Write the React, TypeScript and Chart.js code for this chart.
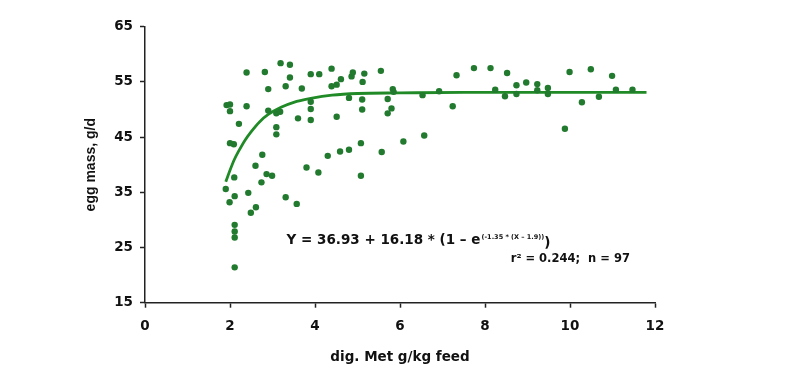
import React, { useEffect, useRef } from "react";
import { Chart, registerables } from "chart.js";

Chart.register(...registerables);

const FONT = '"DejaVu Sans", "Liberation Sans", Arial, sans-serif';
const FONT_NARROW = '"Liberation Sans", Arial, Helvetica, sans-serif';

// digestible Met (g/kg feed) of each observation
const metX = [
  1.92, 2.0, 2.0, 2.39, 2.82, 3.19, 3.41, 3.41, 2.9, 3.31,
  2.39, 2.21, 2.9, 3.09, 3.18, 3.09, 3.09, 2.0, 2.09, 2.76,
  2.6, 2.1, 2.86, 2.99, 2.74, 1.9, 2.43, 2.11, 1.99, 2.61,
  2.49, 2.11, 2.11, 2.11, 2.11, 3.31, 3.57, 3.8, 4.08, 3.6,
  3.9, 3.9, 3.9, 3.69, 3.9, 4.1, 4.39, 4.39, 4.51, 4.61,
  4.86, 4.89, 5.16, 5.12, 5.55, 4.51, 4.8, 5.11, 5.11, 5.08,
  4.8, 4.59, 4.3, 5.57, 5.08, 5.83, 5.85, 5.71, 5.8, 5.71,
  6.08, 6.57, 6.53, 6.92, 7.24, 7.33, 7.74, 8.13, 8.52, 8.24,
  8.47, 8.74, 8.74, 8.97, 9.23, 9.23, 9.48, 9.48, 9.88, 9.99,
  10.28, 10.49, 10.68, 10.99, 11.08, 11.47,
];

// egg mass (g/d) of each observation
const eggMass = [
  50.8, 50.9, 49.7, 56.7, 56.8, 58.4, 58.1, 55.8, 53.7, 54.2,
  50.6, 47.4, 49.8, 49.3, 49.6, 46.8, 45.5, 43.9, 43.7, 41.8,
  39.8, 37.7, 38.3, 38.0, 36.8, 35.6, 34.9, 34.3, 33.2, 32.3,
  31.3, 29.1, 27.9, 26.8, 21.4, 34.1, 32.9, 39.5, 38.6, 48.4,
  48.1, 51.4, 50.1, 53.8, 56.4, 56.4, 57.4, 54.2, 54.5, 55.5,
  56.0, 56.7, 56.5, 55.0, 57.0, 48.7, 52.1, 51.8, 50.0, 43.9,
  42.7, 42.4, 41.6, 42.3, 38.0, 53.7, 53.2, 51.9, 50.2, 49.3,
  44.2, 45.3, 52.6, 53.3, 50.6, 56.2, 57.5, 57.5, 56.6, 53.6,
  52.4, 54.4, 52.8, 54.9, 54.6, 53.5, 53.9, 52.8, 46.5, 56.8,
  51.3, 57.3, 52.3, 56.1, 53.6, 53.6,
];

// fitted curve
const fitX = [1.9, 2.0, 2.1, 2.2, 2.35, 2.5, 2.7, 2.9, 3.2, 3.5, 3.9, 4.4, 5.0, 6.0, 7.5, 9.5, 11.8];
const fitY = [36.9, 39.0, 40.9, 42.4, 44.4, 46.0, 47.8, 49.1, 50.4, 51.3, 52.0, 52.6, 52.9, 53.0, 53.1, 53.1, 53.1];

const xTicks = [0, 2, 4, 6, 8, 10, 12];
const yTicks = [15, 25, 35, 45, 55, 65];

const equationMain = "Y = 36.93 + 16.18 * (1 \u2013 e";
const equationSup = "(-1.35 * (X \u2013 1.9))";
const equationClose = ")";
const statsText = "r\u00b2 = 0.244;  n = 97";

const annotationPlugin = {
  id: "equationText",
  afterDraw(chart: any) {
    const { ctx, scales } = chart;
    const xs = scales.x;
    const ys = scales.y;
    ctx.save();
    ctx.fillStyle = "#111";
    ctx.textAlign = "left";
    ctx.textBaseline = "middle";
    const x0 = xs.getPixelForValue(3.33);
    const y0 = ys.getPixelForValue(26.2);
    ctx.font = `bold 13.5px ${FONT}`;
    ctx.fillText(equationMain, x0, y0);
    let x = x0 + ctx.measureText(equationMain).width + 1;
    ctx.font = `bold 6.5px ${FONT}`;
    ctx.fillText(equationSup, x, y0 - 4);
    x += ctx.measureText(equationSup).width;
    ctx.font = `bold 13.5px ${FONT}`;
    ctx.fillText(equationClose, x, y0 + 3);
    ctx.font = `bold 11.5px ${FONT}`;
    ctx.textAlign = "right";
    ctx.fillText(statsText, xs.getPixelForValue(11.41), ys.getPixelForValue(22.9));
    ctx.restore();
  },
};

export default function App() {
  const ref = useRef<HTMLCanvasElement | null>(null);

  useEffect(() => {
    if (!ref.current) return;
    const points = metX.map((v, i) => ({ x: v, y: eggMass[i] }));
    const curve = fitX.map((v, i) => ({ x: v, y: fitY[i] }));
    const chart = new Chart(ref.current, {
      type: "scatter",
      data: {
        datasets: [
          {
            type: "line",
            data: curve,
            borderColor: "#1f8a26",
            borderWidth: 2.8,
            pointRadius: 0,
            cubicInterpolationMode: "monotone",
            fill: false,
            order: 1,
          } as any,
          {
            data: points,
            backgroundColor: "#217a2e",
            borderWidth: 0,
            pointRadius: 3.2,
            order: 0,
          },
        ],
      },
      options: {
        animation: false,
        responsive: false,
        layout: { padding: { left: 83, right: 145, top: 26.7, bottom: 23 } },
        plugins: { legend: { display: false }, tooltip: { enabled: false } },
        scales: {
          x: {
            type: "linear",
            min: 0,
            max: 12,
            afterBuildTicks: (s: any) => {
              s.ticks = xTicks.map((v) => ({ value: v }));
            },
            afterFit: (s: any) => {
              s.height = 63.3;
            },
            ticks: {
              color: "#111",
              font: { family: FONT, size: 13.5, weight: "bold" },
              padding: 11,
            },
            grid: {
              drawOnChartArea: false,
              drawTicks: true,
              tickLength: 5,
              tickColor: "#222",
              tickWidth: 1.5,
            },
            border: { display: true, color: "#222", width: 1.5 },
            title: {
              display: true,
              text: "dig. Met g/kg feed",
              color: "#111",
              font: { family: FONT, size: 13.5, weight: "bold" },
              padding: { top: 0, bottom: 0 },
            },
          },
          y: {
            type: "linear",
            min: 15,
            max: 65,
            afterBuildTicks: (s: any) => {
              s.ticks = yTicks.map((v) => ({ value: v }));
            },
            afterFit: (s: any) => {
              s.width = 62;
            },
            ticks: {
              color: "#111",
              font: { family: FONT, size: 13.5, weight: "bold" },
              padding: 7,
            },
            grid: {
              drawOnChartArea: false,
              drawTicks: true,
              tickLength: 5,
              tickColor: "#222",
              tickWidth: 1.5,
            },
            border: { display: true, color: "#222", width: 1.5 },
            title: {
              display: true,
              text: "egg mass, g/d",
              color: "#111",
              font: { family: FONT_NARROW, size: 14, weight: "bold" },
              padding: { top: 0, bottom: 0 },
            },
          },
        },
      },
      plugins: [annotationPlugin],
    });
    return () => chart.destroy();
  }, []);

  return (
    <div style={{ position: "fixed", left: 0, top: 0, width: 800, height: 389, background: "#fff" }}>
      <canvas ref={ref} width={800} height={389} />
    </div>
  );
}
